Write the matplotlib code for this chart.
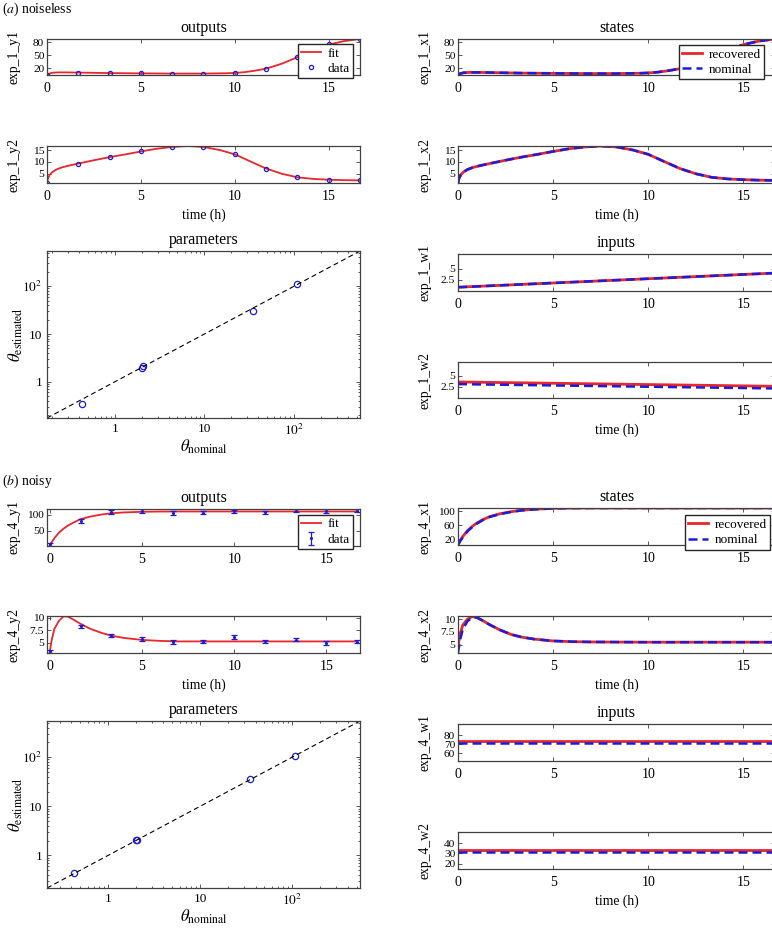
import matplotlib
matplotlib.use('Agg')
import matplotlib.pyplot as plt

plt.rcParams['font.family'] = ['Liberation Serif', 'DejaVu Serif']
plt.rcParams['mathtext.fontset'] = 'stix'

# ---- data ----
t_data = [0, 1.667, 3.333, 5, 6.667, 8.333, 10, 11.667, 13.333, 15, 16.667]

# (a) noiseless
y1_data_a = [5, 10.3, 8.8, 8.8, 8.0, 8.0, 10.3, 19.3, 47, 76.7, 88]
y2_data_a = [1.1, 9.3, 12.0, 14.4, 16.25, 16.25, 13.2, 7.2, 3.5, 2.5, 2.2]

t_x1_a = [0, 0.1, 0.3, 0.6, 1.0, 1.667, 2.5, 3.333, 5, 6.667, 8.333, 9.5, 10,
          10.5, 11, 11.667, 12.5, 13.333, 14.2, 15, 15.8, 16.667]
x1_rec_a = [5, 8, 10.3, 11, 11, 10.6, 10, 9.4, 8.8, 8.3, 8.3, 9, 9.8,
            11.5, 14.5, 19.5, 31, 46, 62, 75, 83, 88]
x1_nom_a = [5, 8, 10.3, 11, 11, 10.6, 10, 9.4, 8.8, 8.3, 8.3, 9, 9.8,
            11.5, 14.5, 19.5, 31, 46, 62, 75, 83, 88]

t_x2_a = [0, 0.05, 0.15, 0.3, 0.5, 0.8, 1.2, 1.667, 2.5, 3.333, 4.2, 5, 5.8,
          6.667, 7.5, 8.333, 9.2, 10, 10.8, 11.667, 12.5, 13.333, 14.2, 15,
          15.8, 16.667]
x2_rec_a = [1.1, 3.0, 4.6, 5.8, 6.8, 7.7, 8.5, 9.3, 10.7, 12.0, 13.2, 14.4,
            15.5, 16.3, 16.7, 16.3, 15.0, 13.2, 10.3, 7.2, 5.0, 3.5, 2.8, 2.5,
            2.3, 2.2]
x2_nom_a = [1.1, 3.0, 4.6, 5.8, 6.8, 7.7, 8.5, 9.3, 10.7, 12.0, 13.2, 14.4,
            15.5, 16.3, 16.7, 16.3, 15.0, 13.2, 10.3, 7.2, 5.0, 3.5, 2.8, 2.5,
            2.3, 2.2]

t_w = [0, 16.667]
w1_rec_a = [0.8, 4.0]
w1_nom_a = [0.8, 4.0]
w2_rec_a = [3.6, 2.6]
w2_nom_a = [3.1, 2.1]

theta_nom_a = [0.43, 2.0, 2.05, 35, 108]
theta_est_a = [0.35, 1.95, 2.1, 31, 110]

# (b) noisy
y1_data_b = [9, 79.6, 108, 111, 105, 106, 110, 107, 111, 111, 112]
y1_err_b = [4.5, 5.5, 5, 5, 5.5, 5.5, 5, 5, 4.5, 5, 5]
y2_data_b = [3.3, 8.3, 6.45, 5.8, 5.2, 5.25, 6.2, 5.3, 5.65, 5.0, 5.25]
y2_err_b = [0.3, 0.35, 0.35, 0.4, 0.35, 0.35, 0.4, 0.35, 0.35, 0.35, 0.35]

t_b = [0, 0.1, 0.25, 0.5, 0.75, 1.0, 1.3, 1.667, 2.2, 2.8, 3.333, 4.0, 5.0,
       6.0, 7.0, 10, 16.667]
y1_fit_b = [7, 15, 28, 45, 57, 67, 76, 86, 94, 100, 104, 106.5, 108.5,
            109.3, 109.5, 109.5, 109.5]
y2_fit_b = [3.2, 5.5, 7.8, 9.4, 10.3, 10.2, 9.6, 8.8, 7.8, 7.0, 6.45, 6.0,
            5.6, 5.4, 5.3, 5.3, 5.3]
x1_rec_b = [4, 15, 28, 45, 57, 67, 76, 85, 93, 99, 103, 106, 108.5, 109.3,
            109.5, 109.5, 109.5]
x1_nom_b = [4, 14, 26, 43, 55, 65, 75, 84, 92, 98.5, 102.5, 105.5, 108.3,
            109.3, 109.5, 109.5, 109.5]
x2_rec_b = [4.6, 7.0, 8.8, 10.0, 10.5, 10.3, 9.7, 8.9, 7.9, 7.0, 6.5, 6.1,
            5.75, 5.6, 5.55, 5.5, 5.5]
x2_nom_b = [3.4, 5.8, 8.0, 9.6, 10.3, 10.3, 9.7, 8.9, 7.9, 7.0, 6.5, 6.1,
            5.75, 5.6, 5.55, 5.5, 5.5]

w1_rec_b = [74, 74]
w1_nom_b = [71, 71]
w2_rec_b = [33.5, 33.5]
w2_nom_b = [31.8, 31.8]

theta_nom_b = [0.433, 2.0, 2.05, 35, 108]
theta_est_b = [0.44, 2.1, 2.08, 36, 108]

time_ticks = [0, 5, 10, 15]

# ---- layout helpers ----
W, H = 772, 932
RED = '#e8262b'
BLUE = '#1c1cd8'
SPINE = '0.25'


def box(x0, y0, x1, y1):
    return [x0 / W, 1 - y1 / H, (x1 - x0) / W, (y1 - y0) / H]


def style(ax, ylabel, yticks, ylim, xlim=(0, 16.667), xlabel=None, title=None):
    ax.set_xlim(xlim)
    ax.set_ylim(ylim)
    ax.set_xticks(time_ticks)
    ax.set_yticks(yticks)
    ax.set_yticklabels([('%g' % v) for v in yticks])
    ax.tick_params(direction='in', top=True, right=True, length=3, width=0.6,
                   color=SPINE)
    ax.tick_params(axis='x', labelsize=10, pad=5)
    ax.tick_params(axis='y', labelsize=8.2, pad=2)
    for s in ax.spines.values():
        s.set_color(SPINE)
        s.set_linewidth(0.9)
    ax.set_ylabel(ylabel, fontsize=9.8)
    ax.yaxis.set_label_coords(-0.085, 0.5)
    if xlabel:
        ax.set_xlabel(xlabel, fontsize=9.8, labelpad=4)
    if title:
        ax.set_title(title, fontsize=11.5, pad=5)


def legend(ax, labels, anchor):
    ax.legend(labels, loc='upper right', bbox_to_anchor=anchor, fontsize=9.5,
              fancybox=False, framealpha=1, edgecolor='0.15', borderaxespad=0,
              handlelength=1.5, handletextpad=0.5, borderpad=0.25,
              labelspacing=0.25)


def params(ax, nom, est, lim, title):
    ax.loglog(nom, est, 'o', mfc='none', mec=BLUE, ms=4.5, mew=0.9)
    ax.plot(lim, lim, color='k', lw=0.8, dashes=(4.5, 3))
    ax.set_xlim(lim)
    ax.set_ylim(lim)
    ax.set_xticks([1, 10, 100])
    ax.set_xticklabels(['1', '10', r'$10^2$'])
    ax.set_yticks([1, 10, 100])
    ax.set_yticklabels(['1', '10', r'$10^2$'])
    ax.tick_params(which='both', direction='in', top=True, right=True,
                   color=SPINE, width=0.6, labelsize=9.5)
    ax.tick_params(which='major', length=3)
    ax.tick_params(which='minor', length=1.6)
    for s in ax.spines.values():
        s.set_color(SPINE)
        s.set_linewidth(0.9)
    ax.set_title(title, fontsize=11.5, pad=5)
    ax.set_xlabel(r'$\theta_{\mathrm{nominal}}$', fontsize=12, labelpad=0)
    ax.set_ylabel(r'$\theta_{\mathrm{estimated}}$', fontsize=12, labelpad=2)


fig = plt.figure(figsize=(W / 100, H / 100), dpi=100)

L0, L1 = 47, 360
R0, R1 = 458, 775

# ================= (a) noiseless =================
fig.text(2 / W, 1 - 9 / H, r'($\mathit{a}$) noiseless', fontsize=9.8, va='center')

ax = fig.add_axes(box(L0, 39, L1, 75))
ax.plot(t_x1_a, x1_rec_a, color=RED, lw=1.3)
ax.plot(t_data, y1_data_a, 'o', mfc='none', mec=BLUE, ms=3, mew=0.9)
style(ax, 'exp_1_y1', [20, 50, 80], (5, 88), title='outputs')
legend(ax, ['fit', 'data'], (0.978, 0.86))

ax = fig.add_axes(box(L0, 146, L1, 183))
ax.plot(t_x2_a, x2_rec_a, color=RED, lw=1.3)
ax.plot(t_data, y2_data_a, 'o', mfc='none', mec=BLUE, ms=3, mew=0.9)
style(ax, 'exp_1_y2', [5, 10, 15], (1.1, 16.7), xlabel='time (h)')

ax = fig.add_axes(box(L0, 251, L1, 418))
params(ax, theta_nom_a, theta_est_a, (0.175, 545), 'parameters')
ax.yaxis.set_label_coords(-0.07, 0.5)

ax = fig.add_axes(box(R0, 39, R1, 75))
ax.plot(t_x1_a, x1_rec_a, color=RED, lw=2)
ax.plot(t_x1_a, x1_nom_a, color=BLUE, lw=1.8, dashes=(3.6, 2))
style(ax, 'exp_1_x1', [20, 50, 80], (5, 88), title='states')
legend(ax, ['recovered', 'nominal'], (0.965, 0.833))

ax = fig.add_axes(box(R0, 146, R1, 183))
ax.plot(t_x2_a, x2_rec_a, color=RED, lw=2)
ax.plot(t_x2_a, x2_nom_a, color=BLUE, lw=1.8, dashes=(3.6, 2))
style(ax, 'exp_1_x2', [5, 10, 15], (1.1, 16.7), xlabel='time (h)')

ax = fig.add_axes(box(R0, 254, R1, 291))
ax.plot(t_w, w1_rec_a, color=RED, lw=2)
ax.plot(t_w, w1_nom_a, color=BLUE, lw=1.8, dashes=(3.6, 2))
style(ax, 'exp_1_w1', [2.5, 5], (-0.05, 8.3), title='inputs')

ax = fig.add_axes(box(R0, 362, R1, 398))
ax.plot(t_w, w2_rec_a, color=RED, lw=2)
ax.plot(t_w, w2_nom_a, color=BLUE, lw=1.8, dashes=(3.6, 2))
style(ax, 'exp_1_w2', [2.5, 5], (-0.1, 8.2), xlabel='time (h)')

# ================= (b) noisy =================
fig.text(2 / W, 1 - 481 / H, r'($\mathit{b}$) noisy', fontsize=9.8, va='center')

ax = fig.add_axes(box(L0, 509, L1, 546))
ax.plot(t_b, y1_fit_b, color=RED, lw=1.3)
ax.errorbar(t_data, y1_data_b, yerr=y1_err_b, fmt='.', color=BLUE, ms=2.5,
            elinewidth=0.9, capsize=2.2, capthick=0.9)
style(ax, 'exp_4_y1', [50, 100], (4, 117), xlim=(-0.15, 16.82), title='outputs')
legend(ax, ['fit', 'data'], (0.978, 0.84))

ax = fig.add_axes(box(L0, 616, L1, 653))
ax.plot(t_b, y2_fit_b, color=RED, lw=1.3)
ax.errorbar(t_data, y2_data_b, yerr=y2_err_b, fmt='.', color=BLUE, ms=2.5,
            elinewidth=0.9, capsize=2.2, capthick=0.9)
style(ax, 'exp_4_y2', [5, 7.5, 10], (3.0, 10.35), xlim=(-0.15, 16.82),
      xlabel='time (h)')

ax = fig.add_axes(box(L0, 721, L1, 888))
params(ax, theta_nom_b, theta_est_b, (0.218, 545), 'parameters')
ax.yaxis.set_label_coords(-0.07, 0.5)

ax = fig.add_axes(box(R0, 508, R1, 545))
ax.plot(t_b, x1_rec_b, color=RED, lw=2)
ax.plot(t_b, x1_nom_b, color=BLUE, lw=1.8, dashes=(3.6, 2))
style(ax, 'exp_4_x1', [20, 60, 100], (3.8, 109.5), title='states')
legend(ax, ['recovered', 'nominal'], (0.985, 0.8))

ax = fig.add_axes(box(R0, 616, R1, 653))
ax.plot(t_b, x2_rec_b, color=RED, lw=2)
ax.plot(t_b, x2_nom_b, color=BLUE, lw=1.8, dashes=(3.6, 2))
style(ax, 'exp_4_x2', [5, 7.5, 10], (3.4, 10.6), xlabel='time (h)')

ax = fig.add_axes(box(R0, 724, R1, 761))
ax.plot(t_w, w1_rec_b, color=RED, lw=2)
ax.plot(t_w, w1_nom_b, color=BLUE, lw=1.8, dashes=(3.6, 2))
style(ax, 'exp_4_w1', [60, 70, 80], (51.5, 92.6), title='inputs')

ax = fig.add_axes(box(R0, 832, R1, 869))
ax.plot(t_w, w2_rec_b, color=RED, lw=2)
ax.plot(t_w, w2_nom_b, color=BLUE, lw=1.8, dashes=(3.6, 2))
style(ax, 'exp_4_w2', [20, 30, 40], (15.2, 50.5), xlabel='time (h)')

fig.savefig('out.png', dpi=100)
